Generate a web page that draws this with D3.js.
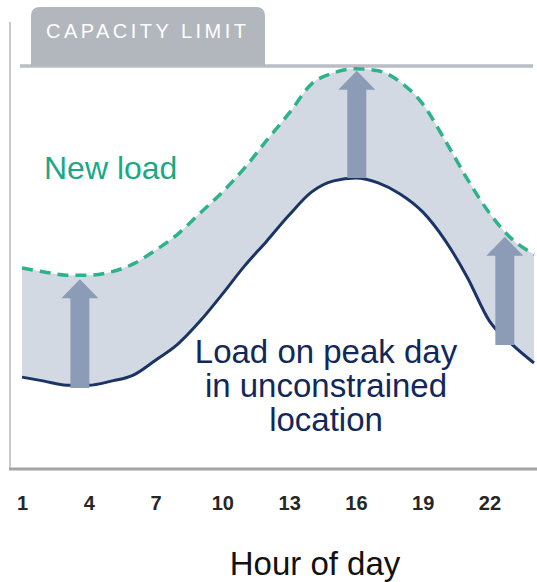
<!DOCTYPE html>
<html>
<head>
<meta charset="utf-8">
<script src="https://cdn.jsdelivr.net/npm/d3@7"></script>
<style>
  body { margin: 0; background: #fff; }
  svg { display: block; font-family: "Liberation Sans", Arial, sans-serif; }
</style>
</head>
<body>
<svg width="537" height="582"></svg>
<script>
// hours of the day
var hours = [1, 2, 3, 4, 5, 6, 7, 8, 9, 10, 11, 12, 13, 14, 15, 16, 17, 18, 19, 20, 21, 22, 23, 24];
// load on peak day in unconstrained location (% of capacity)
var baseLoad = [22.8, 21.8, 20.8, 20.8, 21.8, 23.3, 27.0, 31.0, 36.7, 43.4, 50.4, 56.6,
                63.0, 68.7, 71.5, 72.2, 71.0, 68.2, 63.8, 56.8, 47.6, 36.7, 31.0, 26.3];
// new load (% of capacity)
var newLoad = [49.9, 48.9, 48.1, 48.1, 48.9, 50.9, 54.3, 58.3, 63.5, 68.7, 74.7, 81.6,
               88.3, 95.5, 98.3, 99.3, 98.8, 96.0, 90.6, 81.6, 72.0, 63.5, 57.1, 53.3];
var tickHours = [1, 4, 7, 10, 13, 16, 19, 22];
var capacity = 100;
// arrows: hour, from, to
var arrowHours = [3.6, 16.04, 22.69];
var arrowFrom = [20.1, 72.2, 30.8];
var arrowTo = [47.1, 98.8, 57.6];

var svg = d3.select("svg");

var x = d3.scaleLinear().domain([1, 24]).range([22, 534]);
var y = d3.scaleLinear().domain([0, 100]).range([469, 66]);

var data = hours.map(function(h, i) { return {h: h, base: baseLoad[i], top: newLoad[i]}; });

// shaded gap between the two loads
svg.append("path")
    .datum(data)
    .attr("fill", "#d3d9e3")
    .attr("d", d3.area()
        .x(function(d) { return x(d.h); })
        .y0(function(d) { return y(d.base); })
        .y1(function(d) { return y(d.top); })
        .curve(d3.curveMonotoneX));

// left axis line
svg.append("line")
    .attr("x1", 10).attr("x2", 10)
    .attr("y1", 22).attr("y2", 469)
    .attr("stroke", "#cacaca").attr("stroke-width", 2);

// bottom axis
var xAxis = d3.axisBottom(x).tickValues(tickHours).tickSize(0).tickPadding(0);
var gx = svg.append("g").attr("transform", "translate(0,469)").call(xAxis);
gx.select(".domain").remove();
gx.selectAll("text")
    .attr("y", 41)
    .attr("dy", null)
    .attr("font-size", 20)
    .attr("font-weight", "bold")
    .attr("font-family", "\"Liberation Sans\", Arial, sans-serif")
    .attr("fill", "#262626");
svg.append("line")
    .attr("x1", 9).attr("x2", 537)
    .attr("y1", 469).attr("y2", 469)
    .attr("stroke", "#a3a3a3").attr("stroke-width", 3);

// capacity limit line and tab
svg.append("line")
    .attr("x1", 20).attr("x2", 533)
    .attr("y1", y(capacity)).attr("y2", y(capacity))
    .attr("stroke", "#b9bdc6").attr("stroke-width", 3.5);

var tx0 = 31, tx1 = 265, ty0 = 7, ty1 = y(capacity), r = 9;
svg.append("path")
    .attr("fill", "#b2b6bd")
    .attr("d", "M" + tx0 + "," + ty1 + "V" + (ty0 + r) + "Q" + tx0 + "," + ty0 + " " + (tx0 + r) + "," + ty0 +
        "H" + (tx1 - r) + "Q" + tx1 + "," + ty0 + " " + tx1 + "," + (ty0 + r) + "V" + ty1 + "Z");
svg.append("text")
    .attr("x", 46).attr("y", 38)
    .attr("font-size", 20)
    .attr("fill", "#fff")
    .attr("textLength", 200)
    .attr("lengthAdjust", "spacing")
    .text("CAPACITY  LIMIT");

// load lines
svg.append("path")
    .datum(data)
    .attr("fill", "none")
    .attr("stroke", "#1b3466")
    .attr("stroke-width", 3)
    .attr("d", d3.line()
        .x(function(d) { return x(d.h); })
        .y(function(d) { return y(d.base); })
        .curve(d3.curveMonotoneX));

svg.append("path")
    .datum(data)
    .attr("fill", "none")
    .attr("stroke", "#2db38b")
    .attr("stroke-width", 3.5)
    .attr("stroke-dasharray", "11,7")
    .attr("d", d3.line()
        .x(function(d) { return x(d.h); })
        .y(function(d) { return y(d.top); })
        .curve(d3.curveMonotoneX));

// arrows
var shaftW = 19, headW = 37, headL = 19;
arrowHours.forEach(function(h, i) {
    var cx = x(h), yb = y(arrowFrom[i]), yt = y(arrowTo[i]), yh = yt + headL;
    svg.append("path")
        .attr("fill", "#8c9cb6")
        .attr("d", "M" + (cx - shaftW / 2) + "," + yb + "V" + yh + "H" + (cx - headW / 2) +
            "L" + cx + "," + yt + "L" + (cx + headW / 2) + "," + yh + "H" + (cx + shaftW / 2) +
            "V" + yb + "Z");
});

// labels
svg.append("text")
    .attr("x", 44).attr("y", 179)
    .attr("font-size", 32)
    .attr("fill", "#1aa985")
    .text("New load");

var navyLines = ["Load on peak day", "in unconstrained", "location"];
svg.append("g").selectAll("text")
    .data(navyLines)
    .enter().append("text")
    .attr("x", 326)
    .attr("y", function(d, i) { return 363 + i * 34; })
    .attr("text-anchor", "middle")
    .attr("font-size", 33)
    .attr("fill", "#13285a")
    .text(function(d) { return d; });

svg.append("text")
    .attr("x", 315).attr("y", 575)
    .attr("text-anchor", "middle")
    .attr("font-size", 33)
    .attr("fill", "#111")
    .text("Hour of day");
</script>
</body>
</html>
